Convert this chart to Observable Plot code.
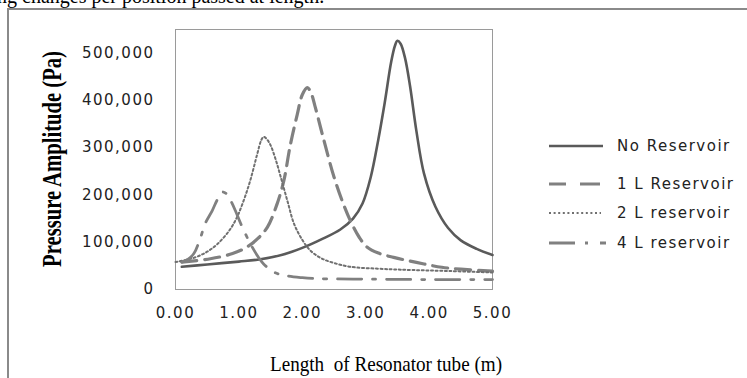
<!DOCTYPE html>
<html><head><meta charset="utf-8">
<script src="https://cdn.jsdelivr.net/npm/d3@7"></script>
<script src="https://cdn.jsdelivr.net/npm/@observablehq/plot@0.6"></script>
<style>
html,body{margin:0;padding:0;background:#fff;width:747px;height:378px;overflow:hidden;}
#chart{position:absolute;left:0;top:0;}
</style></head><body>
<div id="chart"></div>
<script>
// ---- data ----
const seriesNames = ["No Reservoir", "1 L Reservoir", "2 L reservoir", "4 L reservoir"];
const xTicks = [0, 1, 2, 3, 4, 5];
const yTicks = [0, 100000, 200000, 300000, 400000, 500000];

const lenNo = [0.1, 0.5, 1.0, 1.34, 1.7, 2.0, 2.3, 2.6, 2.8, 2.95, 3.08, 3.2, 3.3, 3.4, 3.46, 3.5, 3.55, 3.62, 3.7, 3.8, 3.92, 4.1, 4.3, 4.5, 4.75, 5.0];
const presNo = [48000, 53000, 59000, 64000, 74000, 88000, 106000, 127000, 150000, 182000, 238000, 318000, 395000, 480000, 515000, 526000, 520000, 490000, 430000, 335000, 245000, 175000, 130000, 104000, 86000, 73000];

const len1L = [0.1, 0.55, 0.9, 1.13, 1.3, 1.45, 1.6, 1.71, 1.81, 1.92, 2.0, 2.08, 2.14, 2.2, 2.34, 2.5, 2.65, 2.76, 2.9, 3.02, 3.2, 3.44, 3.7, 3.92, 4.2, 4.5, 5.0];
const pres1L = [58000, 65000, 76000, 90000, 108000, 132000, 180000, 231000, 305000, 370000, 412000, 427000, 415000, 388000, 316000, 238000, 180000, 145000, 110000, 90000, 77000, 68000, 60000, 54000, 47000, 43000, 39000];

const len2L = [0.0, 0.29, 0.5, 0.66, 0.85, 0.97, 1.08, 1.18, 1.29, 1.35, 1.39, 1.44, 1.5, 1.58, 1.66, 1.77, 1.87, 2.0, 2.13, 2.3, 2.5, 2.76, 3.2, 3.55, 4.34, 5.0];
const pres2L = [58000, 67000, 80000, 96000, 125000, 153000, 190000, 231000, 287000, 315000, 323000, 318000, 305000, 275000, 238000, 185000, 139000, 105000, 82000, 66000, 56000, 48000, 44000, 42000, 39000, 36000];

const len4L = [0.1, 0.2, 0.29, 0.39, 0.47, 0.58, 0.66, 0.74, 0.8, 0.87, 0.95, 1.03, 1.18, 1.3, 1.39, 1.55, 1.71, 2.0, 2.23, 3.0, 4.0, 5.0];
const pres4L = [58000, 64000, 76000, 108000, 140000, 167000, 190000, 206000, 203000, 188000, 165000, 139000, 97000, 70000, 54000, 37000, 30000, 25000, 23000, 22000, 21000, 21000];

// ---- styles ----
const styles = [
  {stroke: "#5a5a5a", width: 2.6, dash: null, legendDash: null, x2: 603},
  {stroke: "#808080", width: 3.2, dash: "15,8", legendDash: "17,14,20", x2: 600},
  {stroke: "#707070", width: 2, dash: "2,2.6", legendDash: "2,2.6", x2: 601},
  {stroke: "#808080", width: 2.8, dash: "24,11,3,11", legendDash: "26,10,3,12,6", x2: 610}
];

const rows = (L, P) => L.map((l, i) => ({L: l, P: P[i]}));
const data = [rows(lenNo, presNo), rows(len1L, pres1L), rows(len2L, pres2L), rows(len4L, pres4L)];

const chart = Plot.plot({
  width: 747, height: 378,
  marginLeft: 175, marginRight: 255, marginTop: 29, marginBottom: 89,
  style: {background: "transparent", fontFamily: "DejaVu Sans", fontSize: "15px", color: "#222", letterSpacing: "1.5px"},
  x: {domain: [0, 5], ticks: xTicks, tickFormat: d => d.toFixed(2), tickSize: 0, tickPadding: 18, label: null},
  y: {domain: [0, 550000], ticks: yTicks, tickFormat: d3.format(","), tickSize: 0, tickPadding: 21, label: null},
  marks: [
    Plot.frame({stroke: "#9a9a9a"}),
    ...data.map((d, i) => Plot.line(d, {
      x: "L", y: "P", stroke: styles[i].stroke, strokeWidth: styles[i].width,
      strokeDasharray: styles[i].dash, curve: "catmull-rom"
    }))
  ]
});
document.getElementById("chart").appendChild(chart);

const svg = d3.select(chart);
// outer figure border
svg.append("path").attr("d", "M8,378 V9 H747").attr("fill", "none").attr("stroke", "#8a8a8a").attr("stroke-width", 2);
// cut-off line of document text above the figure
svg.append("text").attr("x", -3).attr("y", 3).attr("text-anchor", "start")
  .attr("font-family", "Liberation Serif").attr("font-size", 20).attr("letter-spacing", 0)
  .attr("fill", "#000").text("ng changes per position passed at length.");

// axis titles
svg.append("text").attr("transform", "translate(61,159) rotate(-90) scale(0.86,1.12)")
  .attr("text-anchor", "middle").attr("font-family", "Liberation Serif").attr("font-weight", "bold")
  .attr("font-size", 24).attr("letter-spacing", 0)
  .attr("fill", "#000").text("Pressure Amplitude (Pa)");
svg.append("text").attr("x", 270).attr("y", 371).attr("text-anchor", "start")
  .attr("font-family", "Liberation Serif").attr("font-size", 21).attr("letter-spacing", 0)
  .attr("textLength", 232).attr("lengthAdjust", "spacingAndGlyphs")
  .attr("fill", "#000").text("Length  of Resonator tube (m)");

// legend
const legendY = [146, 184, 213, 243];
seriesNames.forEach((name, i) => {
  const g = svg.append("g");
  g.append("line").attr("x1", 549).attr("x2", styles[i].x2).attr("y1", legendY[i]).attr("y2", legendY[i])
    .attr("stroke", styles[i].stroke).attr("stroke-width", styles[i].width)
    .attr("stroke-dasharray", styles[i].legendDash);
  g.append("text").attr("x", 617).attr("y", legendY[i]).attr("dy", "0.35em").attr("text-anchor", "start")
    .attr("font-family", "DejaVu Sans").attr("font-size", 15).attr("fill", "#222").text(name);
});
</script>
</body></html>
